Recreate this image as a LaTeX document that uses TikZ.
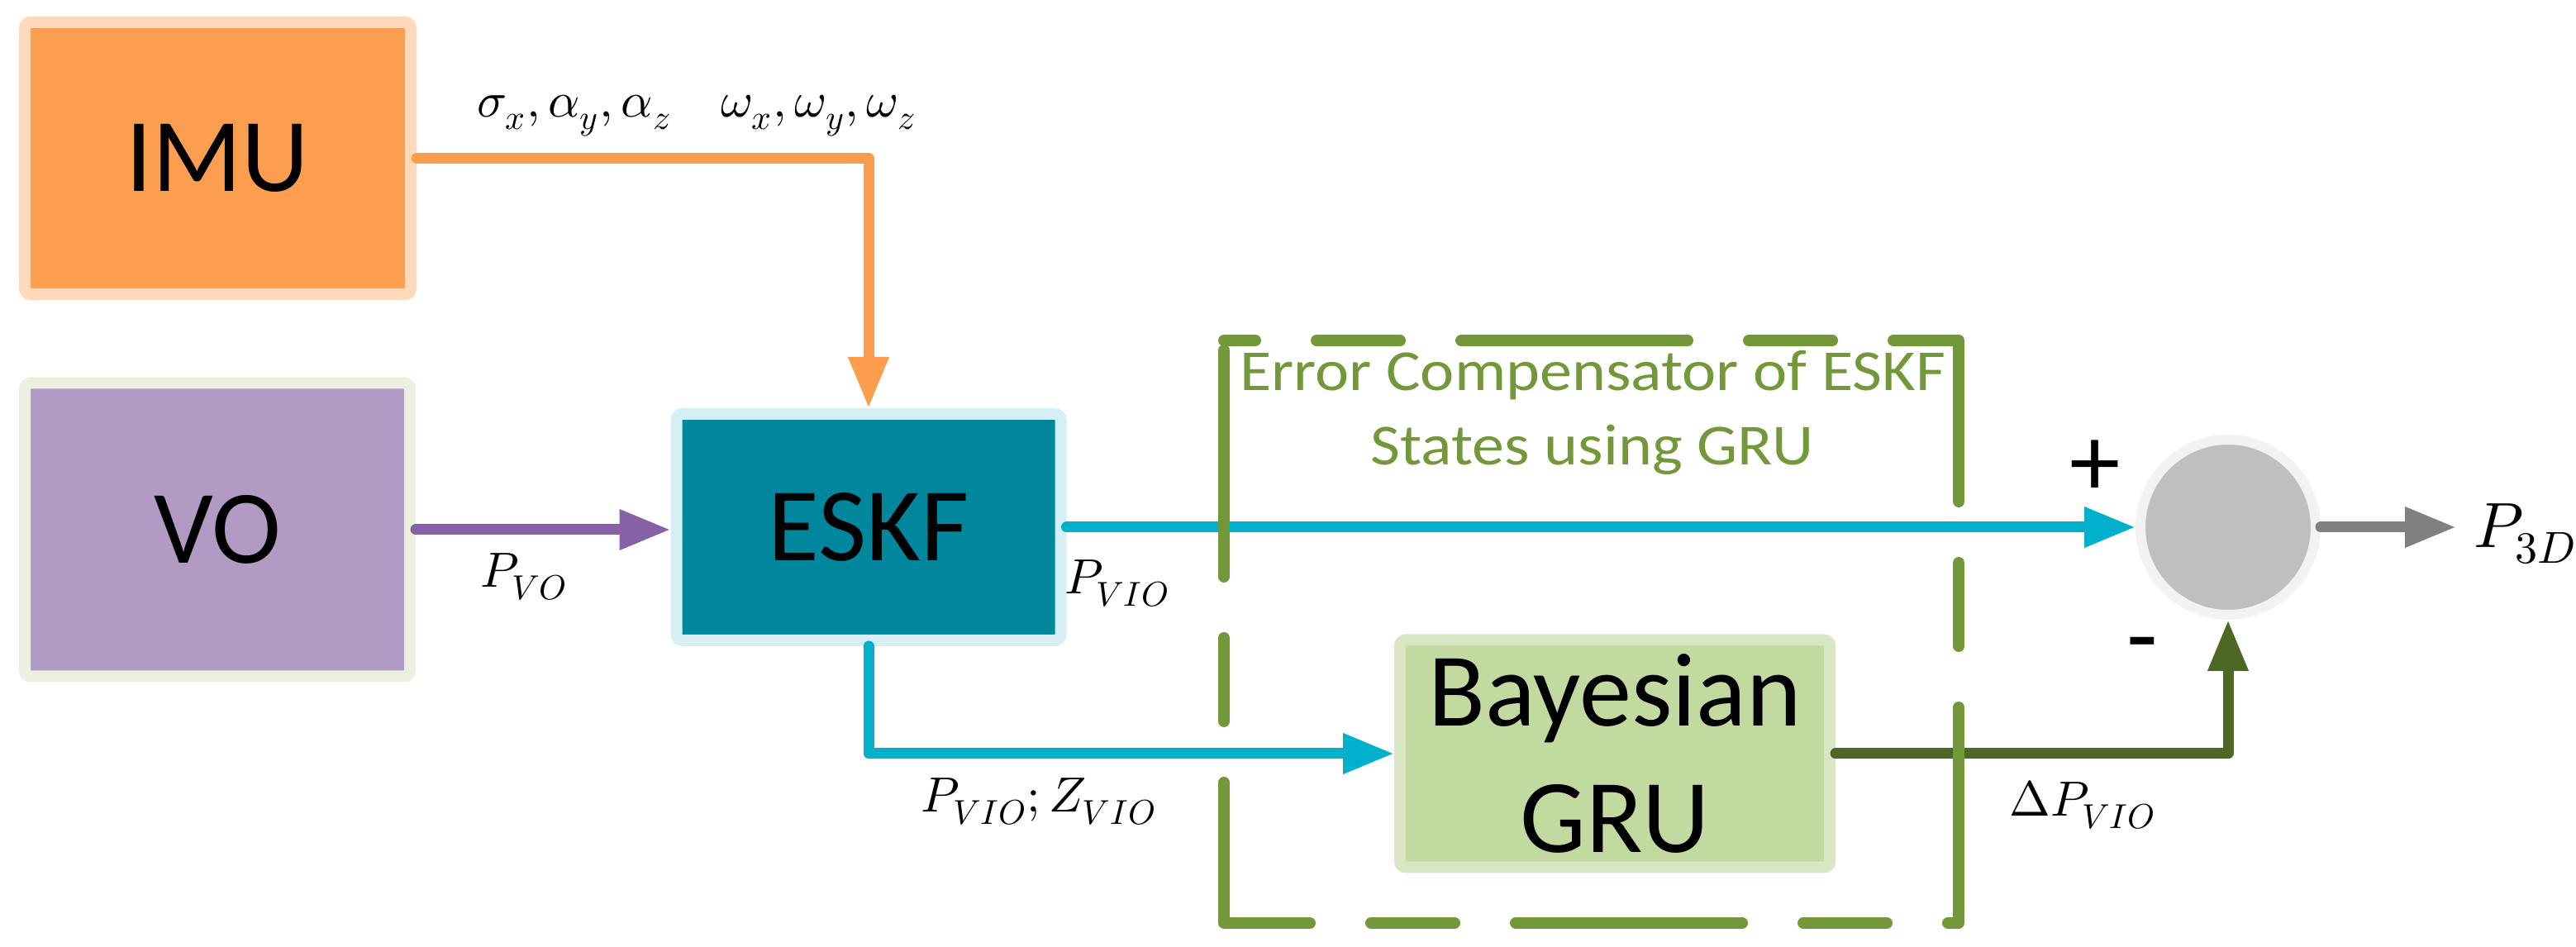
\documentclass[tikz,border=0pt]{standalone}
\usepackage{fontspec}
\usepackage{unicode-math}
\setmainfont{Carlito}
\setmathfont{Latin Modern Math}
\usetikzlibrary{arrows.meta,positioning}

\definecolor{imufill}{RGB}{252,158,80}
\definecolor{imuhalo}{RGB}{255,217,186}
\definecolor{vofill}{RGB}{177,154,196}
\definecolor{vohalo}{RGB}{235,241,222}
\definecolor{eskffill}{RGB}{0,135,158}
\definecolor{eskfhalo}{RGB}{214,239,245}
\definecolor{grufill}{RGB}{194,217,160}
\definecolor{gruhalo}{RGB}{216,230,196}
\definecolor{sumfill}{RGB}{191,191,191}
\definecolor{sumhalo}{RGB}{242,242,242}
\definecolor{imuline}{RGB}{252,157,78}
\definecolor{voline}{RGB}{133,98,165}
\definecolor{eskfline}{RGB}{0,176,204}
\definecolor{gruline}{RGB}{76,104,36}
\definecolor{ecgreen}{RGB}{114,152,58}

\begin{document}
\begin{tikzpicture}[
    block/.style={rectangle, rounded corners=2pt, line width=0.14cm, align=center, inner sep=0pt, font=\fontsize{36}{43.5}\selectfont},
    arr/.style={-{Triangle[length=0.62cm,width=0.46cm]}, line width=0.13cm, line join=round, line cap=round},
    lbl/.style={font=\fontsize{17}{20}\selectfont},
    sign/.style={font=\fontsize{35}{40}\selectfont},
    ecbox/.style={draw=ecgreen, line width=0.14cm, line cap=round, line join=round, dash pattern=on 2.74cm off 0.74cm on 1.01cm off 0.74cm, dash phase=2.36cm}
]
\useasboundingbox (0,0) rectangle (31.17,11.46);

\node[block, fill=imufill, draw=imuhalo, minimum width=4.67cm, minimum height=3.29cm] (imu) at (2.635,9.545) {IMU};
\node[block, fill=vofill, draw=vohalo, minimum width=4.66cm, minimum height=3.55cm] (vo) at (2.63,5.05) {VO};
\node[block, fill=eskffill, draw=eskfhalo, minimum width=4.65cm, minimum height=2.74cm] (eskf) at (10.51,5.08) {ESKF};
\node[block, fill=grufill, draw=gruhalo, minimum width=5.20cm, minimum height=2.75cm] (gru) at (19.54,2.34) {Bayesian\\GRU};
\node[circle, fill=sumfill, draw=sumhalo, line width=0.12cm, minimum size=2.12cm, inner sep=0pt] (sum) at (26.96,5.08) {};

\node[lbl] (imuout) at (8.43,10.06) {$\sigma_x,\alpha_y,\alpha_z\quad\omega_x,\omega_y,\omega_z$};
\node[lbl] (pvo) at (6.34,4.48) {$P_{VO}$};
\node[lbl] (pvio) at (13.52,4.40) {$P_{VIO}$};
\node[lbl] (pzvio) at (12.57,1.76) {$P_{VIO};Z_{VIO}$};
\node[lbl] (dpvio) at (25.20,1.72) {$\Delta P_{VIO}$};
\node[sign] (plus) at (25.35,5.79) {+};
\node[sign] (minus) at (25.92,3.55) {-};
\node[font=\fontsize{22}{26}\selectfont, anchor=west, inner sep=0.21cm] (p3d) at (29.72,5.0) {$P_{3D}$};

\draw[arr, imuline] (imu.east) -| (eskf.north);
\draw[arr, voline] (vo.east) -- (vo.east -| eskf.west);
\draw[arr, eskfline] (eskf.east) -- (sum.west);
\draw[arr, eskfline] (eskf.south) |- (gru.west);
\draw[arr, gruline] (gru.east) -| (sum.south);
\draw[arr, gray] (sum.east) -- (sum.east -| p3d.west);

\draw[ecbox] (14.81,7.34) -- (23.70,7.34) -- (23.70,0.29) -- (14.81,0.29) -- cycle;
\node[align=center, text=ecgreen, font=\fontsize{20}{25.6}\selectfont, xscale=1.11, transform shape] (ectitle) at (19.27,6.47) {Error Compensator of ESKF\\States using GRU};
\end{tikzpicture}
\end{document}
